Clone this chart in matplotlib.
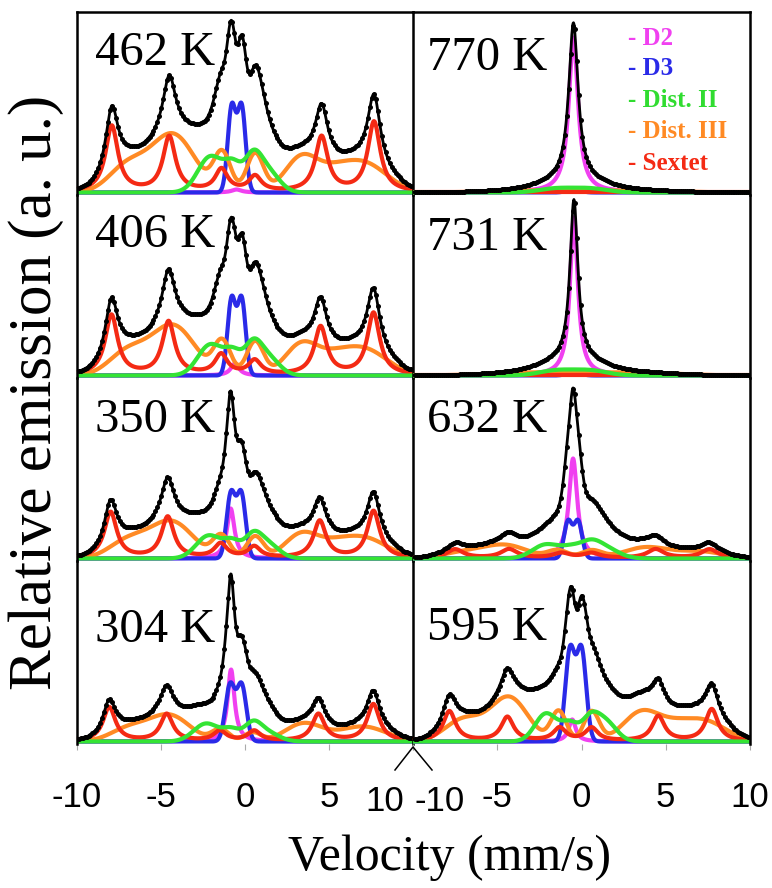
import numpy as np
import matplotlib
matplotlib.use("Agg")
import matplotlib.pyplot as plt
from matplotlib.lines import Line2D

# panel temperatures (K): left column top->bottom, right column top->bottom
temps_left = [462, 406, 350, 304]
temps_right = [770, 731, 632, 595]

# fitted sub-spectra: (centre mm/s, height a.u., width mm/s)
# D2 and sextet lines are Lorentzian (width = HWHM), the others Gaussian (width = sigma)
d2_lines = {
    462: [(-0.5, 3, 0.35)],
    406: [(-0.6, 12, 0.3)],
    350: [(-0.85, 50, 0.27)],
    304: [(-0.83, 72, 0.25)],
    770: [(-0.48, 155, 0.33)],
    731: [(-0.45, 158, 0.28)],
    632: [(-0.5, 100, 0.3)],
    595: [(-0.55, 22, 0.25)],
}
d3_lines = {
    462: [(-0.79, 85, 0.24), (-0.2, 85, 0.24)],
    406: [(-0.8, 76, 0.24), (-0.2, 76, 0.24)],
    350: [(-0.84, 64, 0.26), (-0.22, 64, 0.26)],
    304: [(-0.89, 56, 0.28), (-0.2, 56, 0.28)],
    770: [(-0.45, 3, 0.4)],
    731: [(-0.45, 3, 0.4)],
    632: [(-0.8, 37, 0.24), (-0.2, 37, 0.24)],
    595: [(-0.68, 91, 0.28), (0.0, 91, 0.28)],
}
dist2_lines = {
    462: [(-2.05, 36, 0.75), (-0.7, 24, 0.5), (0.45, 30, 0.5), (1.3, 22, 0.7)],
    406: [(-2.05, 31, 0.75), (-0.7, 20, 0.5), (0.45, 26, 0.5), (1.3, 19, 0.7)],
    350: [(-2.15, 23, 0.75), (-0.75, 15, 0.5), (0.45, 19, 0.5), (1.3, 15, 0.7)],
    304: [(-2.3, 18, 0.75), (-0.8, 11, 0.5), (0.45, 16, 0.5), (1.3, 9, 0.7)],
    770: [(-1.5, 4, 1.0), (0.5, 4, 1.0)],
    731: [(-1.5, 5, 1.0), (0.5, 5, 1.0)],
    632: [(-2.1, 14, 0.8), (-0.6, 9, 0.6), (0.5, 12, 0.6), (1.4, 10, 0.8)],
    595: [(-2.1, 28, 0.65), (-0.7, 17, 0.5), (0.5, 20, 0.5), (1.4, 20, 0.65)],
}
dist3_lines = {
    462: [(-7.0, 26, 1.1), (-4.3, 58, 1.3), (-1.35, 38, 0.5), (0.6, 39, 0.5),
          (3.4, 36, 1.0), (5.3, 10, 0.9), (7.0, 30, 1.4)],
    406: [(-7.0, 23, 1.1), (-4.3, 50, 1.3), (-1.35, 33, 0.5), (0.6, 34, 0.5),
          (3.4, 32, 1.0), (5.3, 9, 0.9), (7.0, 27, 1.4)],
    350: [(-7.0, 17, 1.1), (-4.4, 37, 1.3), (-1.4, 22, 0.5), (0.6, 22, 0.5),
          (3.4, 25, 1.0), (5.3, 7, 0.9), (7.0, 21, 1.4)],
    304: [(-6.9, 13, 1.1), (-4.5, 26, 1.2), (-1.45, 12, 0.5), (0.45, 9, 0.5),
          (3.5, 18, 1.1), (7.0, 15, 1.4)],
    770: [(-3.0, 2, 2.5), (3.0, 2, 2.5)],
    731: [(-3.0, 3, 2.5), (3.0, 3, 2.5)],
    632: [(-7.0, 6, 1.3), (-4.5, 13, 1.3), (-1.4, 8, 0.6), (0.6, 8, 0.6),
          (3.8, 11, 1.3), (7.0, 7, 1.4)],
    595: [(-7.0, 22, 1.1), (-4.3, 44, 1.1), (-1.35, 30, 0.45), (0.6, 30, 0.45),
          (3.6, 30, 1.1), (5.5, 8, 0.9), (7.2, 21, 1.3)],
}
sextet_lines = {
    462: [(-7.93, 66, 0.45), (-4.51, 55, 0.45), (-1.40, 22, 0.45),
          (0.60, 15, 0.45), (4.56, 55, 0.45), (7.68, 70, 0.45)],
    406: [(-7.95, 60, 0.45), (-4.55, 53, 0.45), (-1.42, 20, 0.45),
          (0.58, 14, 0.45), (4.50, 48, 0.45), (7.65, 62, 0.45)],
    350: [(-8.0, 46, 0.45), (-4.6, 41, 0.45), (-1.45, 14, 0.45),
          (0.55, 11, 0.45), (4.45, 37, 0.45), (7.65, 47, 0.45)],
    304: [(-8.08, 34, 0.45), (-4.66, 27, 0.45), (-1.5, 10, 0.45),
          (0.55, 10, 0.45), (4.37, 27, 0.45), (7.64, 37, 0.45)],
    770: [],
    731: [],
    632: [(-7.5, 9, 0.6), (-4.3, 9, 0.6), (-1.2, 5, 0.6),
          (0.6, 5, 0.6), (4.4, 9, 0.6), (7.6, 9, 0.6)],
    595: [(-7.84, 30, 0.45), (-4.40, 24, 0.45), (-1.3, 13, 0.45),
          (0.6, 13, 0.45), (4.56, 25, 0.45), (7.73, 32, 0.45)],
}
# sub-spectra that are part of the total fit but not drawn (Gaussian)
hidden_lines = {
    462: [(-3.0, 10, 0.7), (-1.3, 16, 0.45), (1.1, 30, 1.0)],
    406: [(-3.0, 10, 0.7), (-1.3, 14, 0.45), (1.1, 28, 1.0)],
    350: [(-3.0, 8, 0.7), (-1.3, 9, 0.45), (1.1, 25, 1.0)],
    304: [(-2.9, 9, 0.8), (-1.2, 8, 0.45), (0.8, 26, 0.9)],
    770: [(-0.5, 5, 2.0)],
    731: [(-0.5, 6, 2.0)],
    632: [(0.0, 12, 2.5), (1.0, 8, 1.0)],
    595: [(-2.8, 16, 0.9), (1.3, 20, 0.8), (3.0, 14, 1.2), (6.5, 8, 1.5)],
}

components = [
    ("D2", d2_lines, "lorentz", "#f040f0"),
    ("D3", d3_lines, "gauss", "#2a2ae8"),
    ("Dist. III", dist3_lines, "gauss", "#ff8a24"),
    ("Sextet", sextet_lines, "lorentz", "#f42a14"),
    ("Dist. II", dist2_lines, "gauss", "#34e434"),
]
legend_order = ["D2", "D3", "Dist. II", "Dist. III", "Sextet"]
legend_colors = {"D2": "#f040f0", "D3": "#2a2ae8", "Dist. II": "#30dc30",
                 "Dist. III": "#ff8a24", "Sextet": "#f42a14"}


def profile(v, lines, kind):
    y = np.zeros_like(v)
    for c, h, w in lines:
        if kind == "lorentz":
            y += h * w ** 2 / ((v - c) ** 2 + w ** 2)
        else:
            y += h * np.exp(-0.5 * ((v - c) / w) ** 2)
    return y


W, H = 772, 888
fig = plt.figure(figsize=(W / 100, H / 100), dpi=100)
SERIF = ["Liberation Serif", "DejaVu Serif"]
SANS = ["Liberation Sans", "DejaVu Sans"]

v = np.linspace(-10, 10, 801)
chan = np.linspace(-9.9, 9.9, 170)

col_left = [77, 413]
col_w = [336, 337]
row_top = [12, 195, 378, 561]
row_h = 183
label_dy = {462: 53, 406: 52, 350: 54, 304: 81, 770: 58, 731: 55, 632: 54, 595: 79}

for ci, temps in enumerate([temps_left, temps_right]):
    for ri, T in enumerate(temps):
        x0, y0 = col_left[ci], row_top[ri]
        ax = fig.add_axes([x0 / W, 1 - (y0 + row_h) / H, col_w[ci] / W, row_h / H])
        ax.set_xlim(-10, 10)
        ax.set_ylim(-2.5, 180.5)
        ax.patch.set_alpha(0)

        total = np.zeros_like(v)
        total_ch = np.zeros_like(chan)
        for name, table, kind, color in components:
            y = profile(v, table[T], kind)
            total += y
            total_ch += profile(chan, table[T], kind)
            ax.plot(v, y, color=color, lw=3.0, solid_capstyle="butt", clip_on=False)
        total += profile(v, hidden_lines[T], "gauss")
        total_ch += profile(chan, hidden_lines[T], "gauss")
        ax.plot(v, total, color="black", lw=2.0, zorder=5)
        ax.plot(chan, total_ch, "o", color="black", ms=3.6, mew=0, zorder=6)

        ax.text(0.054 if ci == 0 else 0.042, 1 - label_dy[T] / row_h, f"{T} K",
                transform=ax.transAxes, family=SERIF, fontsize=35,
                ha="left", va="baseline")

        for s in ax.spines.values():
            s.set_visible(False)
            s.set_linewidth(1.8)
        if ci == 0:
            ax.spines["left"].set_visible(True)
            ax.spines["right"].set_visible(True)
        else:
            ax.spines["right"].set_visible(True)
        if ri == 0:
            ax.spines["top"].set_visible(True)

        ax.set_yticks([])
        if ri == 3:
            ax.set_xticks([-10, -5, 0, 5, 10])
            labels = ["-10", "-5", "0", "5", ""] if ci == 0 else ["", "-5", "0", "5", "10"]
            ax.set_xticklabels(labels, family=SANS, fontsize=25)
            ax.tick_params(axis="x", direction="out", length=4.5, width=0.8,
                           color="#aaaaaa", pad=22)
            if ci == 0:
                ax.annotate("10", xy=(10, 0), xycoords=("data", "axes fraction"),
                            xytext=(-20, -29.5), textcoords="offset points",
                            family=SANS, fontsize=25, ha="center", va="top")
            else:
                ax.annotate("-10", xy=(-10, 0), xycoords=("data", "axes fraction"),
                            xytext=(19.5, -29.5), textcoords="offset points",
                            family=SANS, fontsize=25, ha="center", va="top")
        else:
            ax.set_xticks([])

        if T == 770:
            ys = [38, 68, 100, 132, 163]
            for name, yp in zip(legend_order, ys):
                ax.text((628 - x0) / col_w[ci], 1 - (yp - y0) / row_h, "- " + name,
                        transform=ax.transAxes, family=SERIF, fontsize=18,
                        fontweight="bold", color=legend_colors[name],
                        ha="left", va="center")

# break mark under the column junction
fig.add_artist(Line2D([395 / W, 413 / W, 432 / W],
                      [1 - 770 / H, 1 - 747 / H, 1 - 770 / H],
                      color="black", lw=1.1))

fig.text(450 / W, 1 - 858 / H, "Velocity (mm/s)", family=SERIF, fontsize=36,
         ha="center", va="center")
fig.text(36 / W, 1 - 392 / H, "Relative emission (a. u.)", family=SERIF,
         fontsize=44, rotation=90, ha="center", va="center")

fig.savefig("out.png", dpi=100)
